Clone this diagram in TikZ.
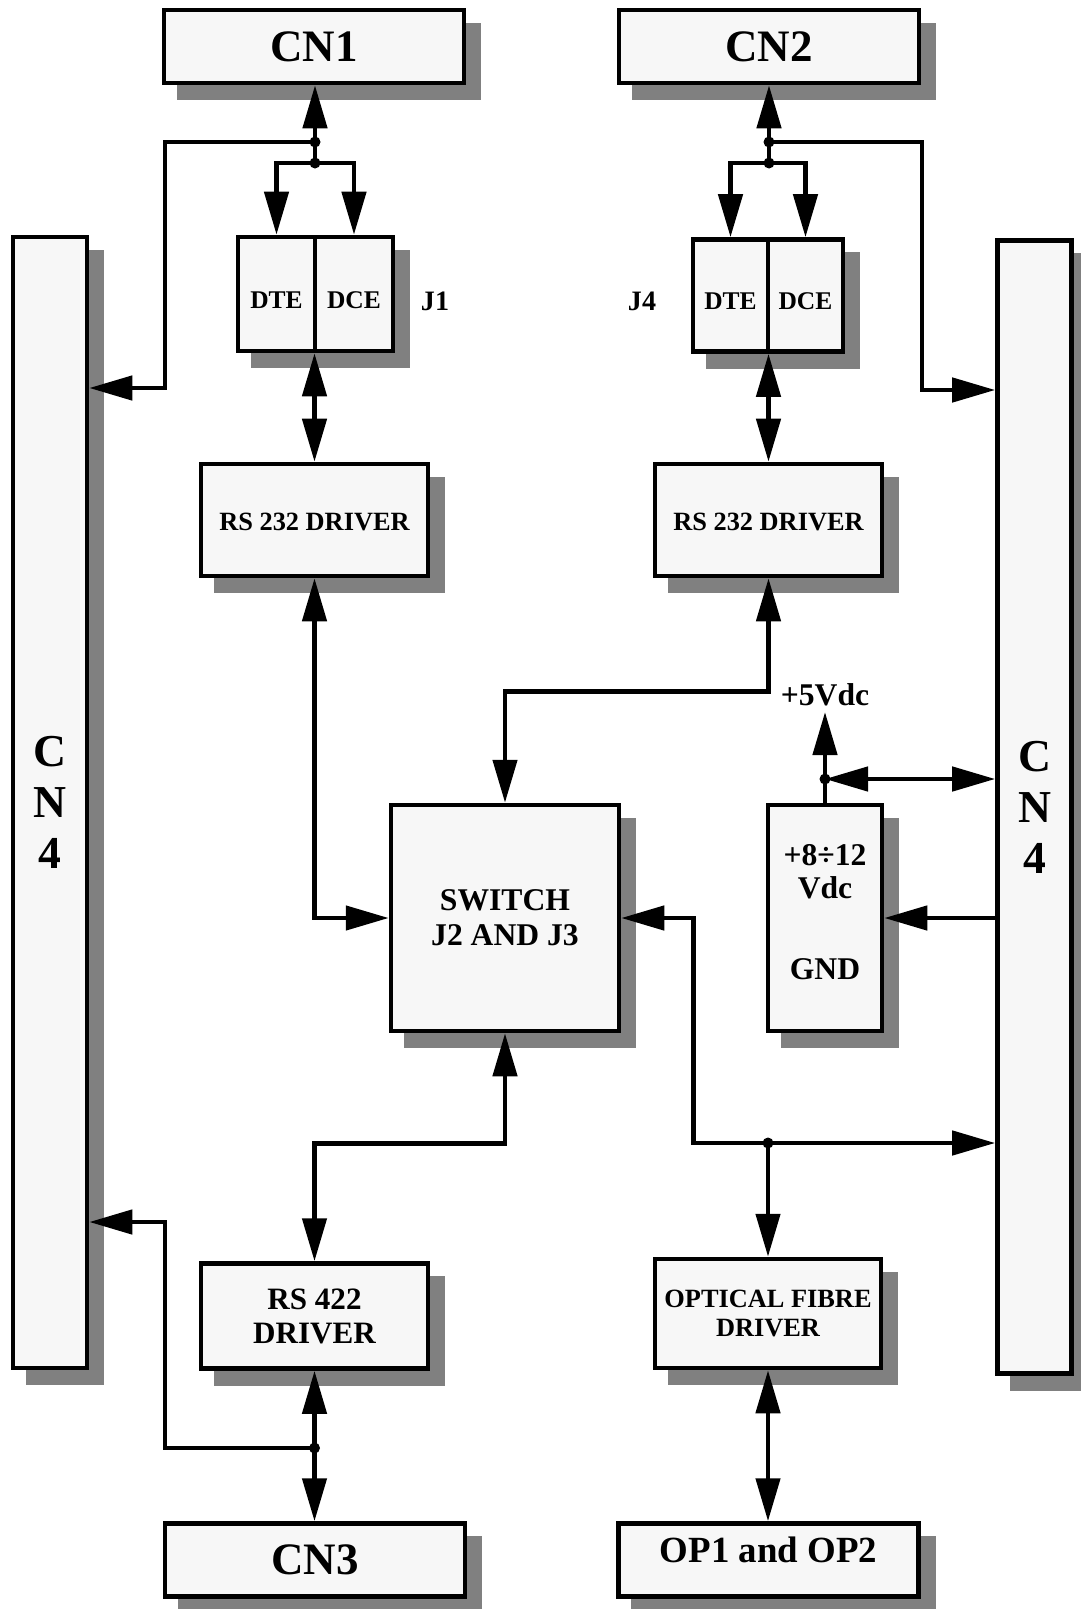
\documentclass[tikz,border=0pt]{standalone}
\usepackage{fontspec}
\setmainfont{Liberation Serif}
\usepackage{tikz}
\usetikzlibrary{positioning, arrows.meta, shadows}
\usepackage{xcolor}
\definecolor{boxfill}{HTML}{F7F7F7}
\definecolor{shadowgray}{HTML}{808080}

\tikzset{
  blk/.style={draw, line width=2.6pt, fill=boxfill, inner sep=0pt, align=center,
    drop shadow={shadow xshift=0.3cm, shadow yshift=-0.3cm, opacity=1, fill=shadowgray, draw=shadowgray, line width=2.6pt}},
  wire/.style={line width=2.6pt},
  tri/.style={wire, -{Triangle[length=0.86cm, width=0.48cm]}},
  dtri/.style={wire, {Triangle[length=0.86cm, width=0.48cm]}-{Triangle[length=0.86cm, width=0.48cm]}},
  bigfont/.style={font={\fontsize{25.6pt}{30pt}\selectfont\bfseries}},
  opfont/.style={font={\fontsize{21pt}{25pt}\selectfont\bfseries}},
  cnfont/.style={font={\fontsize{26pt}{29pt}\selectfont\bfseries}},
  jfont/.style={font={\fontsize{14.5pt}{17pt}\selectfont\bfseries}, text height=16pt, text depth=0pt},
  drvfont/.style={font={\fontsize{15pt}{18pt}\selectfont\bfseries}, text height=12.5pt, text depth=0pt},
  swfont/.style={font={\fontsize{18pt}{19.8pt}\selectfont\bfseries}},
  optfont/.style={font={\fontsize{15pt}{16.5pt}\selectfont\bfseries}},
  rsfont/.style={font={\fontsize{17.7pt}{19.3pt}\selectfont\bfseries}},
  pwrfont/.style={font={\fontsize{18pt}{19pt}\selectfont\bfseries}},
  lblfont/.style={font={\fontsize{16pt}{19pt}\selectfont\bfseries}},
}

\begin{document}
\begin{tikzpicture}[x=0.02cm, y=-0.02cm]
\useasboundingbox (0,0) rectangle (1081,1609);

% Connectors
\node[blk, bigfont, minimum width=6cm, minimum height=1.46cm] (cn1) at (314,46.5) {CN1};
\node[blk, bigfont, minimum width=6cm, minimum height=1.46cm] (cn2) at (769,46.5) {CN2};
\node[blk, bigfont, minimum width=6cm, minimum height=1.46cm] (cn3) at (315,1560) {CN3};
\node[blk, opfont, minimum width=6cm, minimum height=1.46cm, text depth=0.4cm] (op) at (768.5,1560) {OP1 and OP2};
\node[blk, cnfont, minimum width=1.48cm, minimum height=22.62cm] (cn4l) at (50,802.5) {C\\N\\4};
\node[blk, cnfont, minimum width=1.48cm, minimum height=22.66cm] (cn4r) at (1034.5,807) {C\\N\\4};

% Jumpers J1 and J4
\node[blk, jfont, minimum width=1.54cm, minimum height=2.28cm] (dte1) at (276.5,294) {DTE};
\node[blk, jfont, minimum width=1.56cm, minimum height=2.28cm, right=-2.6pt of dte1] (dce1) {DCE};
\node[lblfont] (j1) at (435,301) {J1};
\node[blk, jfont, minimum width=1.5cm, minimum height=2.24cm] (dte2) at (730.5,295.5) {DTE};
\node[blk, jfont, minimum width=1.5cm, minimum height=2.24cm, right=-2.6pt of dte2] (dce2) {DCE};
\node[lblfont] (j4) at (642,301) {J4};

% Drivers
\node[blk, drvfont, minimum width=4.54cm, minimum height=2.24cm] (rs1) at (314.5,520) {RS 232 DRIVER};
\node[blk, drvfont, minimum width=4.54cm, minimum height=2.24cm] (rs2) at (768.5,520) {RS 232 DRIVER};
\node[blk, rsfont, minimum width=4.54cm, minimum height=2.1cm] (rs3) at (314.5,1316) {RS 422\\DRIVER};
\node[blk, optfont, minimum width=4.52cm, minimum height=2.18cm] (opt) at (768,1313.5) {OPTICAL FIBRE\\DRIVER};

% Switch and supply
\node[blk, swfont, minimum width=4.56cm, minimum height=4.52cm] (sw) at (505,918) {SWITCH\\J2 AND J3};
\node[blk, pwrfont, minimum width=2.28cm, minimum height=4.52cm, text height=70pt, text depth=0pt] (pwr) at (825,918) {+8÷12\\Vdc\\[27pt]GND};
\node[pwrfont, anchor=south, inner sep=3pt] (v5) at (825,712) {+5Vdc};

% Junctions
\coordinate (jcn1) at (315,142);
\coordinate (fork1) at (315,163);
\coordinate (bend1) at (165,388);
\coordinate (jcn2) at (769,142);
\coordinate (fork2) at (769,163);
\coordinate (bend2) at (922,390);
\coordinate (jv) at (825,779);
\coordinate (jopt) at (768,1143);
\coordinate (jcn3) at (314.5,1448);
\coordinate (bend3) at (165,1222);

% Arrows, left half
\draw[tri] (jcn1) -- (jcn1 |- cn1.south);
\draw[tri] (jcn1) -| (bend1) -- (bend1 -| cn4l.east);
\draw[wire] (jcn1) -- (fork1);
\draw[tri] (fork1) -| (dte1.north);
\draw[tri] (fork1) -| (dce1.north);
\draw[dtri] (rs1.north |- dte1.south) -- (rs1.north);
\draw[dtri] (rs1.south) |- (sw.west);
\draw[dtri] (sw.south) -- ++(0,110) -| (rs3.north);
\draw[dtri] (rs3.south) -- (rs3.south |- cn3.north);
\draw[tri] (jcn3) -| (bend3) -- (bend3 -| cn4l.east);

% Arrows, right half
\draw[tri] (jcn2) -- (jcn2 |- cn2.south);
\draw[tri] (jcn2) -| (bend2) -- (bend2 -| cn4r.west);
\draw[wire] (jcn2) -- (fork2);
\draw[tri] (fork2) -| (dte2.north);
\draw[tri] (fork2) -| (dce2.north);
\draw[dtri] (rs2.north |- dte2.south) -- (rs2.north);
\draw[dtri] (rs2.south) -- ++(0,113) -| (sw.north);
\draw[dtri] (sw.east) -- ++(72,0) |- (jopt) -- (jopt -| cn4r.west);
\draw[tri] (jopt) -- (opt.north);
\draw[dtri] (opt.south) -- (opt.south |- op.north);

% Supply lines
\draw[wire] (pwr.north) -- (jv);
\draw[tri] (jv) -- (v5.south);
\draw[dtri] (jv) -- (jv -| cn4r.west);
\draw[tri] (cn4r.west |- pwr.east) -- (pwr.east);

% Dots
\foreach \j in {jcn1, fork1, jcn2, fork2, jv, jopt, jcn3}
  \fill (\j) circle (5.5);

\end{tikzpicture}
\end{document}
